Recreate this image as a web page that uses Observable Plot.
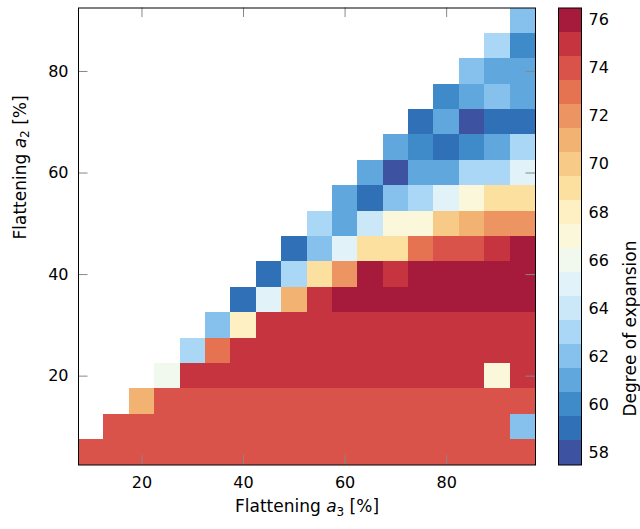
<!DOCTYPE html>
<html><head><meta charset="utf-8">
<script src="https://cdn.jsdelivr.net/npm/d3@7"></script>
<script src="https://cdn.jsdelivr.net/npm/@observablehq/plot@0.6"></script>
<style>
body{margin:0;background:#fff}
#chart{position:relative;width:640px;height:529px}
#chart svg{position:absolute;top:0}
</style>
</head><body><div id="chart"></div>
<script>
// Columns (Flattening a3, %) and rows (Flattening a2, %)
const a3 = [10,15,20,25,30,35,40,45,50,55,60,65,70,75,80,85,90,95];
const a2 = [5,10,15,20,25,30,35,40,45,50,55,60,65,70,75,80,85,90];

// Each row lists the values from its first filled column up to a3 = 95
const row05 = [74,74,74,74,74,74,74,74,74,74,74,74,74,74,74,74,74,74];
const row10 = [74,74,74,74,74,74,74,74,74,74,74,74,74,74,74,74,62];
const row15 = [71,74,74,74,74,74,74,74,74,74,74,74,74,74,74,74];
const row20 = [66,75,75,75,75,75,75,75,75,75,75,75,75,67,75];
const row25 = [63,73,75,75,75,75,75,75,75,75,75,75,75,75];
const row30 = [62,68,75,75,75,75,75,75,75,75,75,75,75];
const row35 = [59,65,71,75,76,76,76,76,76,76,76,76];
const row40 = [59,63,69,72,76,75,76,76,76,76,76];
const row45 = [59,62,65,69,69,73,74,74,75,76];
const row50 = [63,61,64,67,67,70,71,72,72];
const row55 = [61,59,62,63,65,67,69,69];
const row60 = [61,58,61,61,63,63,65];
const row65 = [61,60,59,60,61,63];
const row70 = [59,61,58,59,59];
const row75 = [60,61,62,61];
const row80 = [62,61,61];
const row85 = [63,60];
const row90 = [62];
const rows = [row05,row10,row15,row20,row25,row30,row35,row40,row45,row50,row55,row60,row65,row70,row75,row80,row85,row90];

// Colour levels (degree of expansion) and their colours
const levels = [58,59,60,61,62,63,64,65,66,67,68,69,70,71,72,73,74,75,76];
const palette = ["#3D52A1","#3070B7","#3F8BC9","#60A7DD","#86C1ED","#AAD7F6","#CBE8F8","#E1F3F9","#F1F9EE",
                 "#FBF7DB","#FEF0C3","#FCE0A0","#F7CA88","#F2B272","#EC9462","#E57352","#D9534A","#C5343F","#A61B3B"];

const xTicks = [20,40,60,80];
const yTicks = [20,40,60,80];
const cbTicks = [58,60,62,64,66,68,70,72,74,76];

const cells = [];
rows.forEach((vals, i) => {
  const start = a3.length - vals.length;
  vals.forEach((v, j) => cells.push({a3: a3[start + j], a2: a2[i], value: v}));
});

const W = 540, H = 529, mL = 78, mR = 5, mT = 7.5, mB = 64.5;
const innerW = W - mL - mR, innerH = H - mT - mB;
const tickLen = 9.5;
const font = {fontFamily: "'DejaVu Sans', sans-serif", fontSize: "16px", color: "#000", background: "transparent", overflow: "visible"};
const colorScale = {type: "ordinal", domain: levels, range: palette};

const main = Plot.plot({
  width: W, height: H, marginLeft: mL, marginRight: mR, marginTop: mT, marginBottom: mB,
  style: font,
  x: {domain: [7.5, 97.5], label: null},
  y: {domain: [2.5, 92.5], label: null},
  color: colorScale,
  marks: [
    Plot.rect(cells, {x1: d => d.a3 - 2.5, x2: d => d.a3 + 2.5, y1: d => d.a2 - 2.5, y2: d => d.a2 + 2.5,
                      fill: "value", shapeRendering: "crispEdges"}),
    Plot.tickX(xTicks, {x: d => d, insetTop: innerH - tickLen, stroke: "#888"}),
    Plot.tickX(xTicks, {x: d => d, insetBottom: innerH - tickLen, stroke: "#888"}),
    Plot.tickY(yTicks, {y: d => d, insetRight: innerW - tickLen, stroke: "#888"}),
    Plot.tickY(yTicks, {y: d => d, insetLeft: innerW - tickLen, stroke: "#888"}),
    Plot.frame({stroke: "#000"}),
    Plot.axisX({ticks: xTicks, tickSize: 0, tickPadding: 12}),
    Plot.axisY({ticks: yTicks, tickSize: 0, tickPadding: 10}),
    Plot.text(["Flattening a3 [%]"], {frameAnchor: "bottom", dy: 47, fill: "#000", fontSize: 17}),
    Plot.text(["Flattening a2 [%]"], {frameAnchor: "left", dx: -58, dy: 3, rotate: -90, fill: "#000", fontSize: 17})
  ]
});
main.style.left = "0px";

const cb = Plot.plot({
  width: 100, height: H, marginLeft: 18, marginRight: 59, marginTop: mT, marginBottom: mB,
  style: font,
  y: {domain: [57.5, 76.5], label: null},
  color: colorScale,
  marks: [
    Plot.rect(levels, {y1: d => d - 0.5, y2: d => d + 0.5, fill: d => d, shapeRendering: "crispEdges"}),
    Plot.frame({stroke: "#000"}),
    Plot.axisY({ticks: cbTicks, anchor: "right", tickSize: 0, tickPadding: 7}),
    Plot.text(["Degree of expansion"], {frameAnchor: "right", dx: 49, dy: 4, rotate: -90, fill: "#000", fontSize: 17})
  ]
});
cb.style.left = "540px";

const chart = document.getElementById("chart");
chart.appendChild(main);
chart.appendChild(cb);

function richLabel(svg, plain, sub) {
  d3.select(svg).selectAll("text").filter(function() { return this.textContent === plain; }).each(function() {
    const t = d3.select(this);
    t.text(null);
    t.append("tspan").text("Flattening ");
    t.append("tspan").attr("font-style", "italic").text("a");
    t.append("tspan").attr("font-size", "12px").attr("dy", "3.5").text(sub);
    t.append("tspan").attr("dy", "-3.5").text(" [%]");
  });
}
richLabel(main, "Flattening a3 [%]", "3");
richLabel(main, "Flattening a2 [%]", "2");
</script>
</body></html>
